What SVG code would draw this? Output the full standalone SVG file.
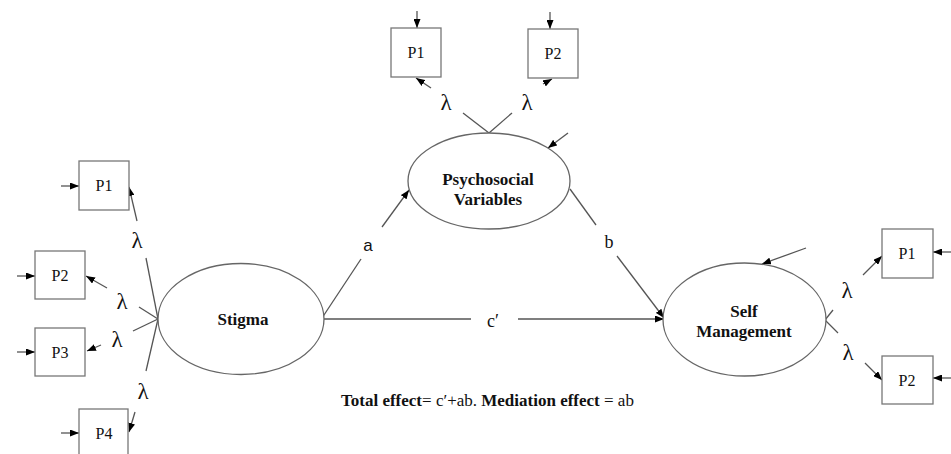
<svg xmlns="http://www.w3.org/2000/svg" width="951" height="454" viewBox="0 0 951 454">
<defs>
<marker id="ah" markerUnits="userSpaceOnUse" markerWidth="9" markerHeight="7" refX="9" refY="3.5" orient="auto">
<path d="M0,0 L9,3.5 L0,7 z" fill="#000"/>
</marker>
<style>
.box{fill:#fff;stroke:#777;stroke-width:1.3}
.ell{fill:#fff;stroke:#666;stroke-width:1.3}
.ln{stroke:#555;stroke-width:1.3;fill:none}
.ar{stroke:#555;stroke-width:1.3;fill:none;marker-end:url(#ah)}
.pt{font-family:"Liberation Serif",serif;font-size:16px;text-anchor:middle;fill:#111}
.lt{font-family:"Liberation Serif",serif;font-size:17px;font-weight:bold;text-anchor:middle;fill:#111}
.lam{font-family:"Liberation Serif",serif;font-size:23px;text-anchor:middle;fill:#111}
.lab{font-family:"Liberation Serif",serif;font-size:18px;text-anchor:middle;fill:#111}
.note{font-family:"Liberation Serif",serif;font-size:17px;fill:#111}
</style>
</defs>
<rect width="951" height="454" fill="#fff"/>
<g id="connectors">
<!-- Stigma indicators -->
<line class="ln" x1="158" y1="319" x2="146" y2="258"/>
<line class="ar" x1="137" y1="221" x2="129" y2="187"/>
<line class="ln" x1="158" y1="319" x2="139" y2="307"/>
<line class="ar" x1="107" y1="288" x2="86" y2="276"/>
<line class="ln" x1="158" y1="319" x2="133" y2="331"/>
<line class="ar" x1="101" y1="345" x2="87" y2="351"/>
<line class="ln" x1="158" y1="319" x2="146" y2="371"/>
<line class="ar" x1="135" y1="412" x2="129" y2="432"/>
<!-- errors left -->
<line class="ar" x1="61" y1="186" x2="79" y2="186"/>
<line class="ar" x1="17" y1="276" x2="35" y2="276"/>
<line class="ar" x1="17" y1="352" x2="35" y2="352"/>
<line class="ar" x1="61" y1="433" x2="79" y2="433"/>
<!-- Psychosocial indicators -->
<line class="ln" x1="489" y1="133" x2="463" y2="113"/>
<line class="ar" x1="431" y1="88" x2="416" y2="78"/>
<line class="ln" x1="489" y1="133" x2="512" y2="113"/>
<line class="ar" x1="543" y1="84" x2="552" y2="79"/>
<line class="ar" x1="417" y1="11" x2="417" y2="28"/>
<line class="ar" x1="550" y1="12" x2="550" y2="29"/>
<line class="ar" x1="568" y1="133" x2="548" y2="148"/>
<!-- structural paths -->
<line class="ln" x1="322" y1="318" x2="361" y2="259"/>
<line class="ar" x1="382" y1="227" x2="409" y2="190"/>
<line class="ln" x1="570" y1="189" x2="596" y2="225"/>
<line class="ar" x1="617" y1="256" x2="664" y2="318"/>
<line class="ln" x1="322" y1="319" x2="471" y2="319"/>
<line class="ar" x1="518" y1="319" x2="664" y2="319"/>
<!-- Self management -->
<line class="ar" x1="806" y1="248" x2="762" y2="264"/>
<line class="ln" x1="825" y1="320" x2="833" y2="310"/>
<line class="ar" x1="863" y1="275" x2="882" y2="256"/>
<line class="ln" x1="825" y1="320" x2="838" y2="333"/>
<line class="ar" x1="865" y1="363" x2="882" y2="380"/>
<line class="ar" x1="951" y1="252" x2="933" y2="252"/>
<line class="ar" x1="951" y1="378" x2="933" y2="378"/>
</g>
<g id="labels">
<text class="lam" x="137" y="248">λ</text>
<text class="lam" x="122" y="309">λ</text>
<text class="lam" x="117" y="347">λ</text>
<text class="lam" x="143" y="399">λ</text>
<text class="lam" x="446" y="110">λ</text>
<text class="lam" x="527" y="110">λ</text>
<text class="lam" x="847" y="298">λ</text>
<text class="lam" x="848" y="360">λ</text>
<text x="368" y="251" font-family="Liberation Sans, sans-serif" font-size="17" text-anchor="middle" fill="#111">a</text>
<text class="lab" x="609" y="248">b</text>
<text class="lab" x="493" y="327">c′</text>
</g>
<g id="stigma">
<ellipse class="ell" cx="241" cy="319" rx="83" ry="55.5"/>
<text class="lt" x="243" y="325">Stigma</text>
</g>
<g id="psychosocial">
<ellipse class="ell" cx="489" cy="181" rx="81" ry="48"/>
<text class="lt" x="488" y="185">Psychosocial</text>
<text class="lt" x="488" y="205">Variables</text>
</g>
<g id="selfmanagement">
<ellipse class="ell" cx="744.5" cy="319.5" rx="81.5" ry="56.5"/>
<text class="lt" x="744" y="317">Self</text>
<text class="lt" x="744" y="337">Management</text>
</g>
<g id="stigma-p1"><rect class="box" x="79" y="161" width="50" height="49"/><text class="pt" x="104" y="191">P1</text></g>
<g id="stigma-p2"><rect class="box" x="35" y="251" width="50" height="48"/><text class="pt" x="60" y="281">P2</text></g>
<g id="stigma-p3"><rect class="box" x="35" y="328" width="50" height="48"/><text class="pt" x="60" y="358">P3</text></g>
<g id="stigma-p4"><rect class="box" x="79" y="409" width="49" height="48"/><text class="pt" x="104" y="439">P4</text></g>
<g id="psy-p1"><rect class="box" x="391" y="28" width="50" height="49"/><text class="pt" x="416" y="58">P1</text></g>
<g id="psy-p2"><rect class="box" x="528" y="29" width="50" height="49"/><text class="pt" x="553" y="59">P2</text></g>
<g id="sm-p1"><rect class="box" x="882" y="229" width="51" height="49"/><text class="pt" x="907" y="259">P1</text></g>
<g id="sm-p2"><rect class="box" x="882" y="356" width="51" height="48"/><text class="pt" x="907" y="386">P2</text></g>
<g id="note">
<text class="note" x="341" y="406"><tspan font-weight="bold">Total effect</tspan>= c′+ab. <tspan font-weight="bold">Mediation effect</tspan> = ab</text>
</g>
</svg>
